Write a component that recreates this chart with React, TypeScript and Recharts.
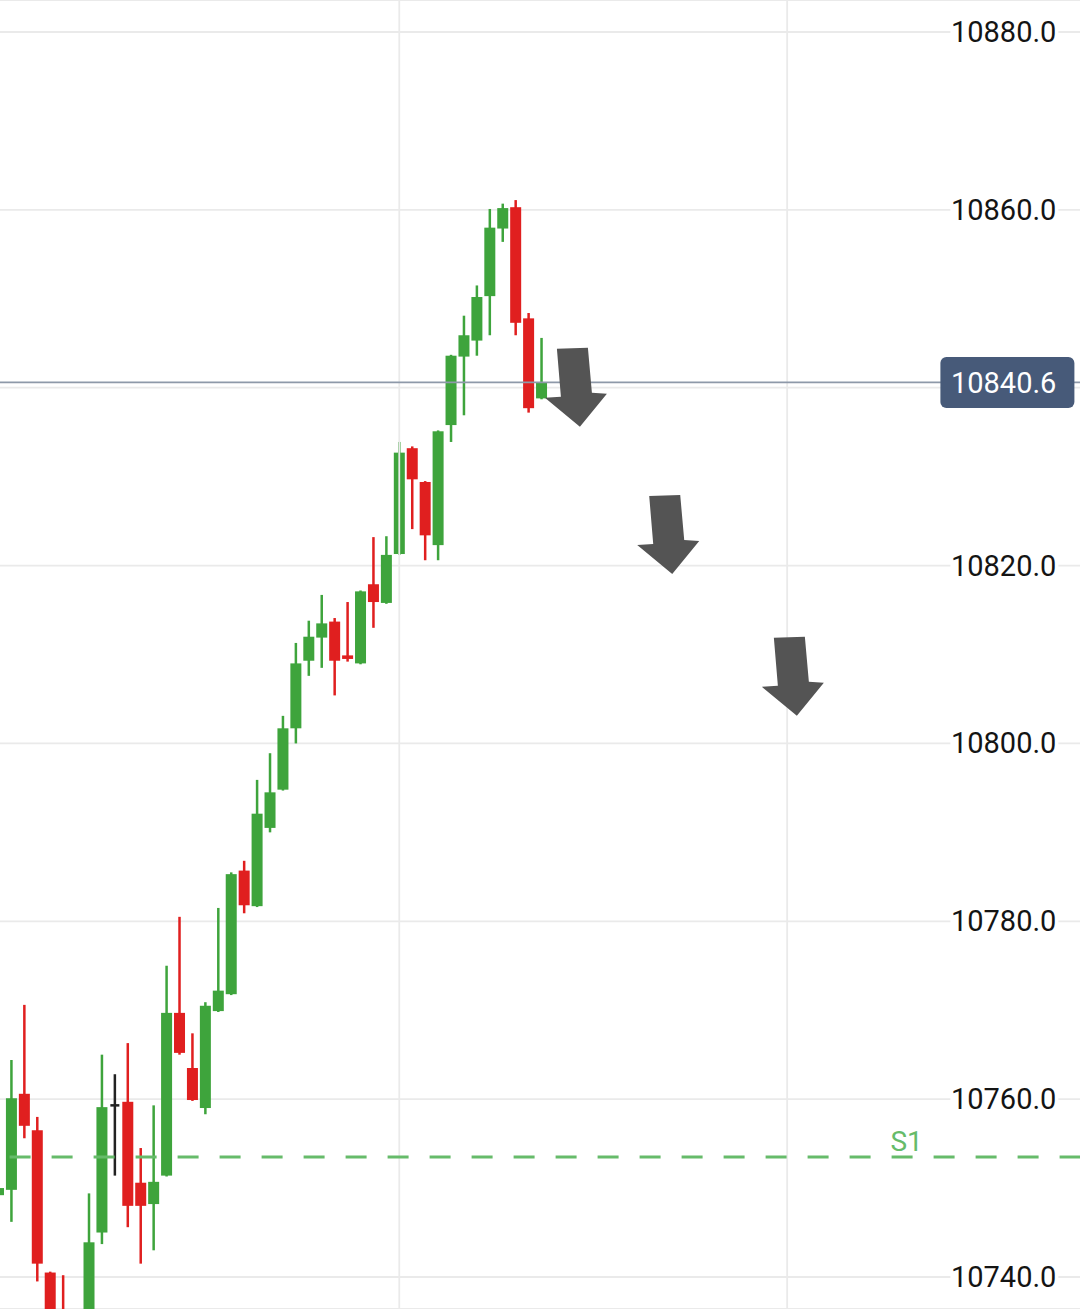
import React from 'react';
import { ComposedChart, Bar, Scatter, XAxis, YAxis, CartesianGrid, ReferenceLine } from 'recharts';

// candle index (-1 is the half-visible one at the left edge)
const candleIndex = [
  -1, 0, 1, 2, 3, 4, 5, 6, 7, 8, 9, 10, 11, 12, 13, 14, 15, 16, 17, 18, 19, 20,
  21, 22, 23, 24, 25, 26, 27, 28, 29, 30, 31, 32, 33, 34, 35, 36, 37, 38, 39, 40, 41,
];
const opens = [
  10749.2, 10749.8, 10760.6, 10756.5, 10740.5, 10735.5, 10722.0, 10730.0, 10745.0, 10759.3, 10759.7,
  10750.6, 10748.2, 10751.4, 10769.7, 10763.5, 10759.0, 10769.9, 10771.8, 10785.7, 10781.7, 10790.5,
  10794.8, 10801.7, 10809.3, 10811.9, 10813.7, 10809.9, 10809.0, 10817.9, 10815.8, 10821.3, 10833.2,
  10829.4, 10822.3, 10835.8, 10843.5, 10845.3, 10850.3, 10857.9, 10860.3, 10847.8, 10838.8,
];
const highs = [
  10750.5, 10764.4, 10770.6, 10758.0, 10740.6, 10740.2, 10733.0, 10749.4, 10765.0, 10762.8, 10766.3,
  10754.5, 10759.3, 10775.0, 10780.5, 10767.4, 10770.9, 10781.5, 10785.5, 10786.8, 10795.9, 10798.9,
  10803.1, 10811.3, 10813.8, 10816.7, 10814.1, 10815.9, 10817.2, 10823.2, 10823.3, 10833.9, 10833.4,
  10829.5, 10835.2, 10843.7, 10848.1, 10851.5, 10860.1, 10860.7, 10861.1, 10848.4, 10845.6,
];
const lows = [
  10748.5, 10746.2, 10755.6, 10739.5, 10725.0, 10720.0, 10718.0, 10728.0, 10743.7, 10751.4, 10745.6,
  10741.5, 10743.0, 10751.3, 10765.0, 10759.8, 10758.3, 10769.8, 10771.7, 10780.9, 10781.6, 10790.0,
  10794.7, 10800.0, 10807.6, 10808.5, 10805.4, 10809.2, 10808.9, 10813.0, 10815.7, 10821.2, 10824.1,
  10820.6, 10820.6, 10833.9, 10836.9, 10843.6, 10845.9, 10856.4, 10845.9, 10837.2, 10838.7,
];
const closes = [
  10750.0, 10760.1, 10757.0, 10741.5, 10728.0, 10725.0, 10730.0, 10743.9, 10759.1, 10759.3, 10748.0,
  10748.0, 10750.7, 10769.7, 10765.2, 10759.9, 10770.5, 10772.2, 10785.3, 10781.8, 10792.1, 10794.5,
  10801.7, 10809.0, 10812.0, 10813.5, 10809.3, 10809.5, 10817.1, 10815.9, 10821.2, 10832.7, 10829.7,
  10823.4, 10835.1, 10843.6, 10845.9, 10850.2, 10858.0, 10860.2, 10847.3, 10837.7, 10840.6,
];

const priceTicks = [10740, 10760, 10780, 10800, 10820, 10840, 10860, 10880];
const gridIndex = [30, 60];
const lastPrice = 10840.6;
const support = { name: 'S1', value: 10753.5 };

// the three down arrows: tip position (candle index, price)
const arrowX = [43.97, 51.11, 60.75];
const arrowY = [10835.6, 10819.05, 10803.1];

const firstSlot = -1;
const lastSlot = 83;

const GREEN = '#3ea43c';
const RED = '#e01f1f';
const DOJI = '#222222';
const GRID = '#eaeaea';
const FONT = 'Roboto, "Noto Sans", sans-serif';
const LABEL_RIGHT = 1064.4;

const rows: any[] = [];
for (let i = firstSlot; i <= lastSlot; i++) {
  const k = candleIndex.indexOf(i);
  rows.push(k < 0 ? { i } : { i, open: opens[k], high: highs[k], low: lows[k], close: closes[k] });
}
const arrows = arrowX.map((x, k) => ({ x, y: arrowY[k] }));

const Candle = (props: any) => {
  const { x, y, width, height, payload } = props;
  if (!payload || payload.open == null) return null;
  const { open, high, low, close } = payload;
  const top = Math.min(y, y + height);
  const h = Math.abs(height);
  const py = (v: number) => (high === low ? top : top + ((high - v) / (high - low)) * h);
  const color = close > open ? GREEN : close < open ? RED : DOJI;
  const cx = x + width / 2;
  let bodyTop = py(Math.max(open, close));
  let bodyH = py(Math.min(open, close)) - bodyTop;
  let bw = width;
  if (bodyH < 2.5) {
    bodyTop = (bodyTop + bodyTop + bodyH) / 2 - 1.25;
    bodyH = 2.5;
    bw = width - 2;
  }
  return (
    <g>
      <rect x={cx - 1.25} y={top} width={2.5} height={h} fill={color} />
      <rect x={cx - bw / 2} y={bodyTop} width={bw} height={bodyH} fill={color} />
    </g>
  );
};

const Arrow = (props: any) => {
  const { cx, cy } = props;
  const pts = [
    [0, 0], [27, -33], [12, -34], [8, -79], [-23, -78], [-19, -30], [-35, -29],
  ];
  return <polygon points={pts.map(([dx, dy]) => `${cx + dx},${cy + dy}`).join(' ')} fill="#545454" />;
};

const PriceTick = (props: any) => {
  const { y, payload } = props;
  if (Math.abs(payload.value - lastPrice) < 5) return null;
  return (
    <g>
      <rect x={LABEL_RIGHT - 106} y={y - 15} width={108} height={30} fill="#ffffff" />
      <text x={LABEL_RIGHT} y={y} textAnchor="end" dominantBaseline="central" fontFamily={FONT} fontSize={29} fill="#141414">
        {payload.value.toFixed(1)}
      </text>
    </g>
  );
};

const LastPriceLabel = (props: any) => {
  const { viewBox } = props;
  const cy = viewBox.y;
  return (
    <g>
      <rect x={LABEL_RIGHT - 116} y={cy - 25.5} width={134} height={51} rx={6} fill="#475a79" />
      <text x={LABEL_RIGHT} y={cy + 1} textAnchor="end" dominantBaseline="central" fontFamily={FONT} fontSize={29} fill="#ffffff">
        {lastPrice.toFixed(1)}
      </text>
    </g>
  );
};

const SupportLabel = (props: any) => {
  const { viewBox } = props;
  return (
    <text x={898.4} y={viewBox.y - 6} fontFamily={FONT} fontSize={28} fill="#66bb6a">
      {support.name}
    </text>
  );
};

export default function App() {
  return (
    <div style={{ position: 'fixed', left: 0, top: 0, width: 1080, height: 1309, overflow: 'hidden', background: '#ffffff' }}>
      <div style={{ position: 'absolute', left: -8.4, top: 0 }}>
        <ComposedChart width={1099} height={1309} data={rows} margin={{ top: 0, right: 0, bottom: 0, left: 0 }}>
          <CartesianGrid horizontal vertical={false} stroke={GRID} strokeWidth={1.8} />
          <XAxis dataKey="i" type="category" hide />
          <XAxis xAxisId="n" dataKey="x" type="number" domain={[firstSlot - 0.5, lastSlot + 0.5]} allowDataOverflow hide />
          <YAxis
            orientation="right"
            mirror
            type="number"
            domain={[10736.4, 10883.6]}
            allowDataOverflow
            ticks={priceTicks}
            axisLine={false}
            tickLine={false}
            tick={<PriceTick />}
          />
          {gridIndex.map((g) => (
            <ReferenceLine key={g} x={g} stroke={GRID} strokeWidth={1.8} />
          ))}
          <ReferenceLine
            y={support.value}
            stroke="#66bb6a"
            strokeWidth={3}
            strokeDasharray="21 21"
            strokeDashoffset={31.6}
            label={<SupportLabel />}
          />
          <Bar
            dataKey={(d: any) => (d.open == null ? null : [d.low, d.high])}
            barSize={11}
            shape={(p: any) => <Candle {...p} />}
            isAnimationActive={false}
          />
          <ReferenceLine y={lastPrice} stroke="#8e99a9" strokeWidth={1.8} label={<LastPriceLabel />} />
          <Scatter xAxisId="n" data={arrows} dataKey="y" shape={(p: any) => <Arrow {...p} />} isAnimationActive={false} />
        </ComposedChart>
      </div>
    </div>
  );
}
